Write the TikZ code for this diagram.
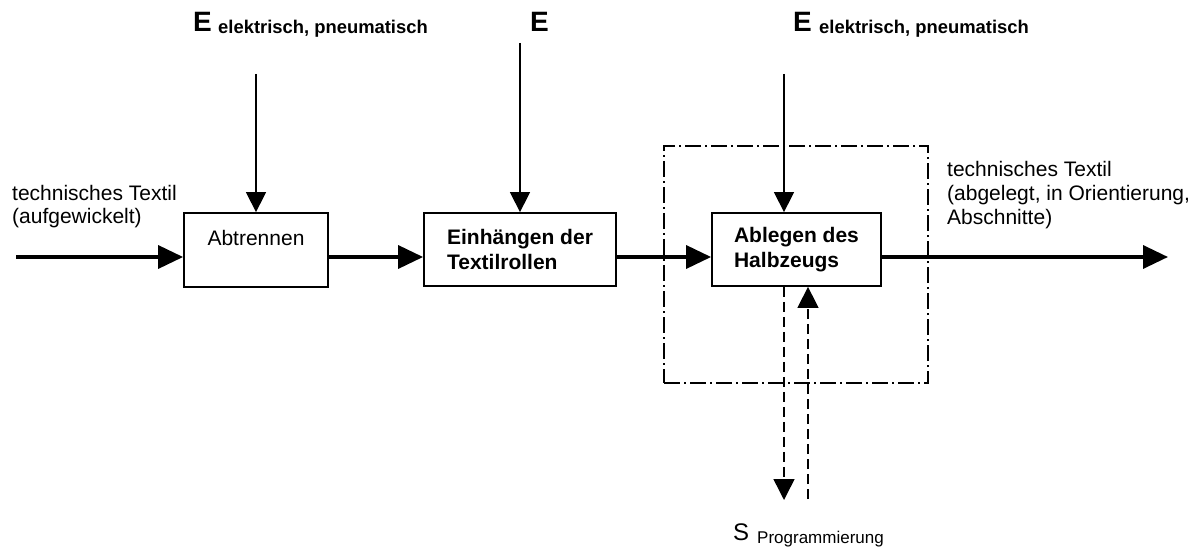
\documentclass[tikz,border=0pt]{standalone}
\usepackage{fontspec}
\setmainfont{Liberation Sans}
\usetikzlibrary{arrows.meta}
\begin{document}
\begin{tikzpicture}[x=1pt,y=-1pt,
  stepbox/.style={draw, line width=1.8pt, fill=white, inner sep=0pt, align=left,
    font=\fontsize{21}{25}\selectfont},
  boldbox/.style={stepbox, font=\fontsize{21}{25}\selectfont\bfseries},
  flow/.style={line width=3.5pt, -{Triangle[length=25pt,width=23pt]}},
  energy/.style={line width=1.5pt, -{Triangle[length=20pt,width=20pt]}},
  signal/.style={line width=1.5pt, dash pattern=on 10pt off 5pt, -{Triangle[length=21pt,width=21pt]}},
  group/.style={draw, line width=1.3pt, dash pattern=on 16pt off 4pt on 2pt off 4pt, inner sep=0pt},
  note/.style={inner sep=0pt, anchor=base west, align=left, font=\fontsize{21}{24}\selectfont},
  bigE/.style={inner sep=0pt, anchor=base west, font=\fontsize{28}{30}\selectfont\bfseries},
  subtext/.style={inner sep=0pt, anchor=base west, font=\fontsize{18.4}{20}\selectfont\bfseries},
]
\useasboundingbox (0,0) rectangle (1202,548);

% system boundary around the placing step
\node[group, minimum width=264pt, minimum height=237pt] (grp) at (796,264.5) {};

% process steps
\node[stepbox, minimum width=144pt, minimum height=74pt] (b1) at (256,250) {Abtrennen\\\mbox{}};
\node[boldbox, minimum width=192pt, minimum height=73pt] (b2) at (520,249.5) {Einhängen der\\Textilrollen};
\node[boldbox, minimum width=169pt, minimum height=73pt] (b3) at (796.5,249.5) {Ablegen des\\Halbzeugs};

% material flow
\coordinate (in) at (16,257);
\coordinate (out) at (1168,257);
\draw[flow] (in) -- (in -| b1.west);
\draw[flow] (in -| b1.east) -- (in -| b2.west);
\draw[flow] (in -| b2.east) -- (in -| b3.west);
\draw[flow] (in -| b3.east) -- (out);

% multi-line labels are anchored at the baseline of their last line
\node[note] (inlabel) at (12,224) {technisches Textil\\(aufgewickelt)};
\node[note] (outlabel) at (947,225) {technisches Textil\\(abgelegt, in Orientierung,\\Abschnitte)};

% energy inputs
\coordinate (e1top) at (256,74);
\coordinate (e2top) at (520,43);
\coordinate (e3top) at (784,74);
\draw[energy] (e1top) -- (e1top |- b1.north);
\draw[energy] (e2top) -- (e2top |- b2.north);
\draw[energy] (e3top) -- (e3top |- b3.north);

\node[bigE] (e1) at (193,32) {E};
\node[subtext] (e1s) at (218,34) {elektrisch, pneumatisch};
\node[bigE] (e2) at (530,32) {E};
\node[bigE] (e3) at (793,32) {E};
\node[subtext] (e3s) at (819,34) {elektrisch, pneumatisch};

% programming signals
\coordinate (sdown) at (784,500);
\coordinate (sup) at (808,499);
\draw[signal] (sdown |- b3.south) -- (sdown);
\draw[signal] (sup) -- (sup |- b3.south);

\node[inner sep=0pt, anchor=base west, font=\fontsize{24}{26}\selectfont] (sl) at (733,540) {S};
\node[inner sep=0pt, anchor=base west, font=\fontsize{17}{19}\selectfont] (sls) at (757,543) {Programmierung};
\end{tikzpicture}
\end{document}
